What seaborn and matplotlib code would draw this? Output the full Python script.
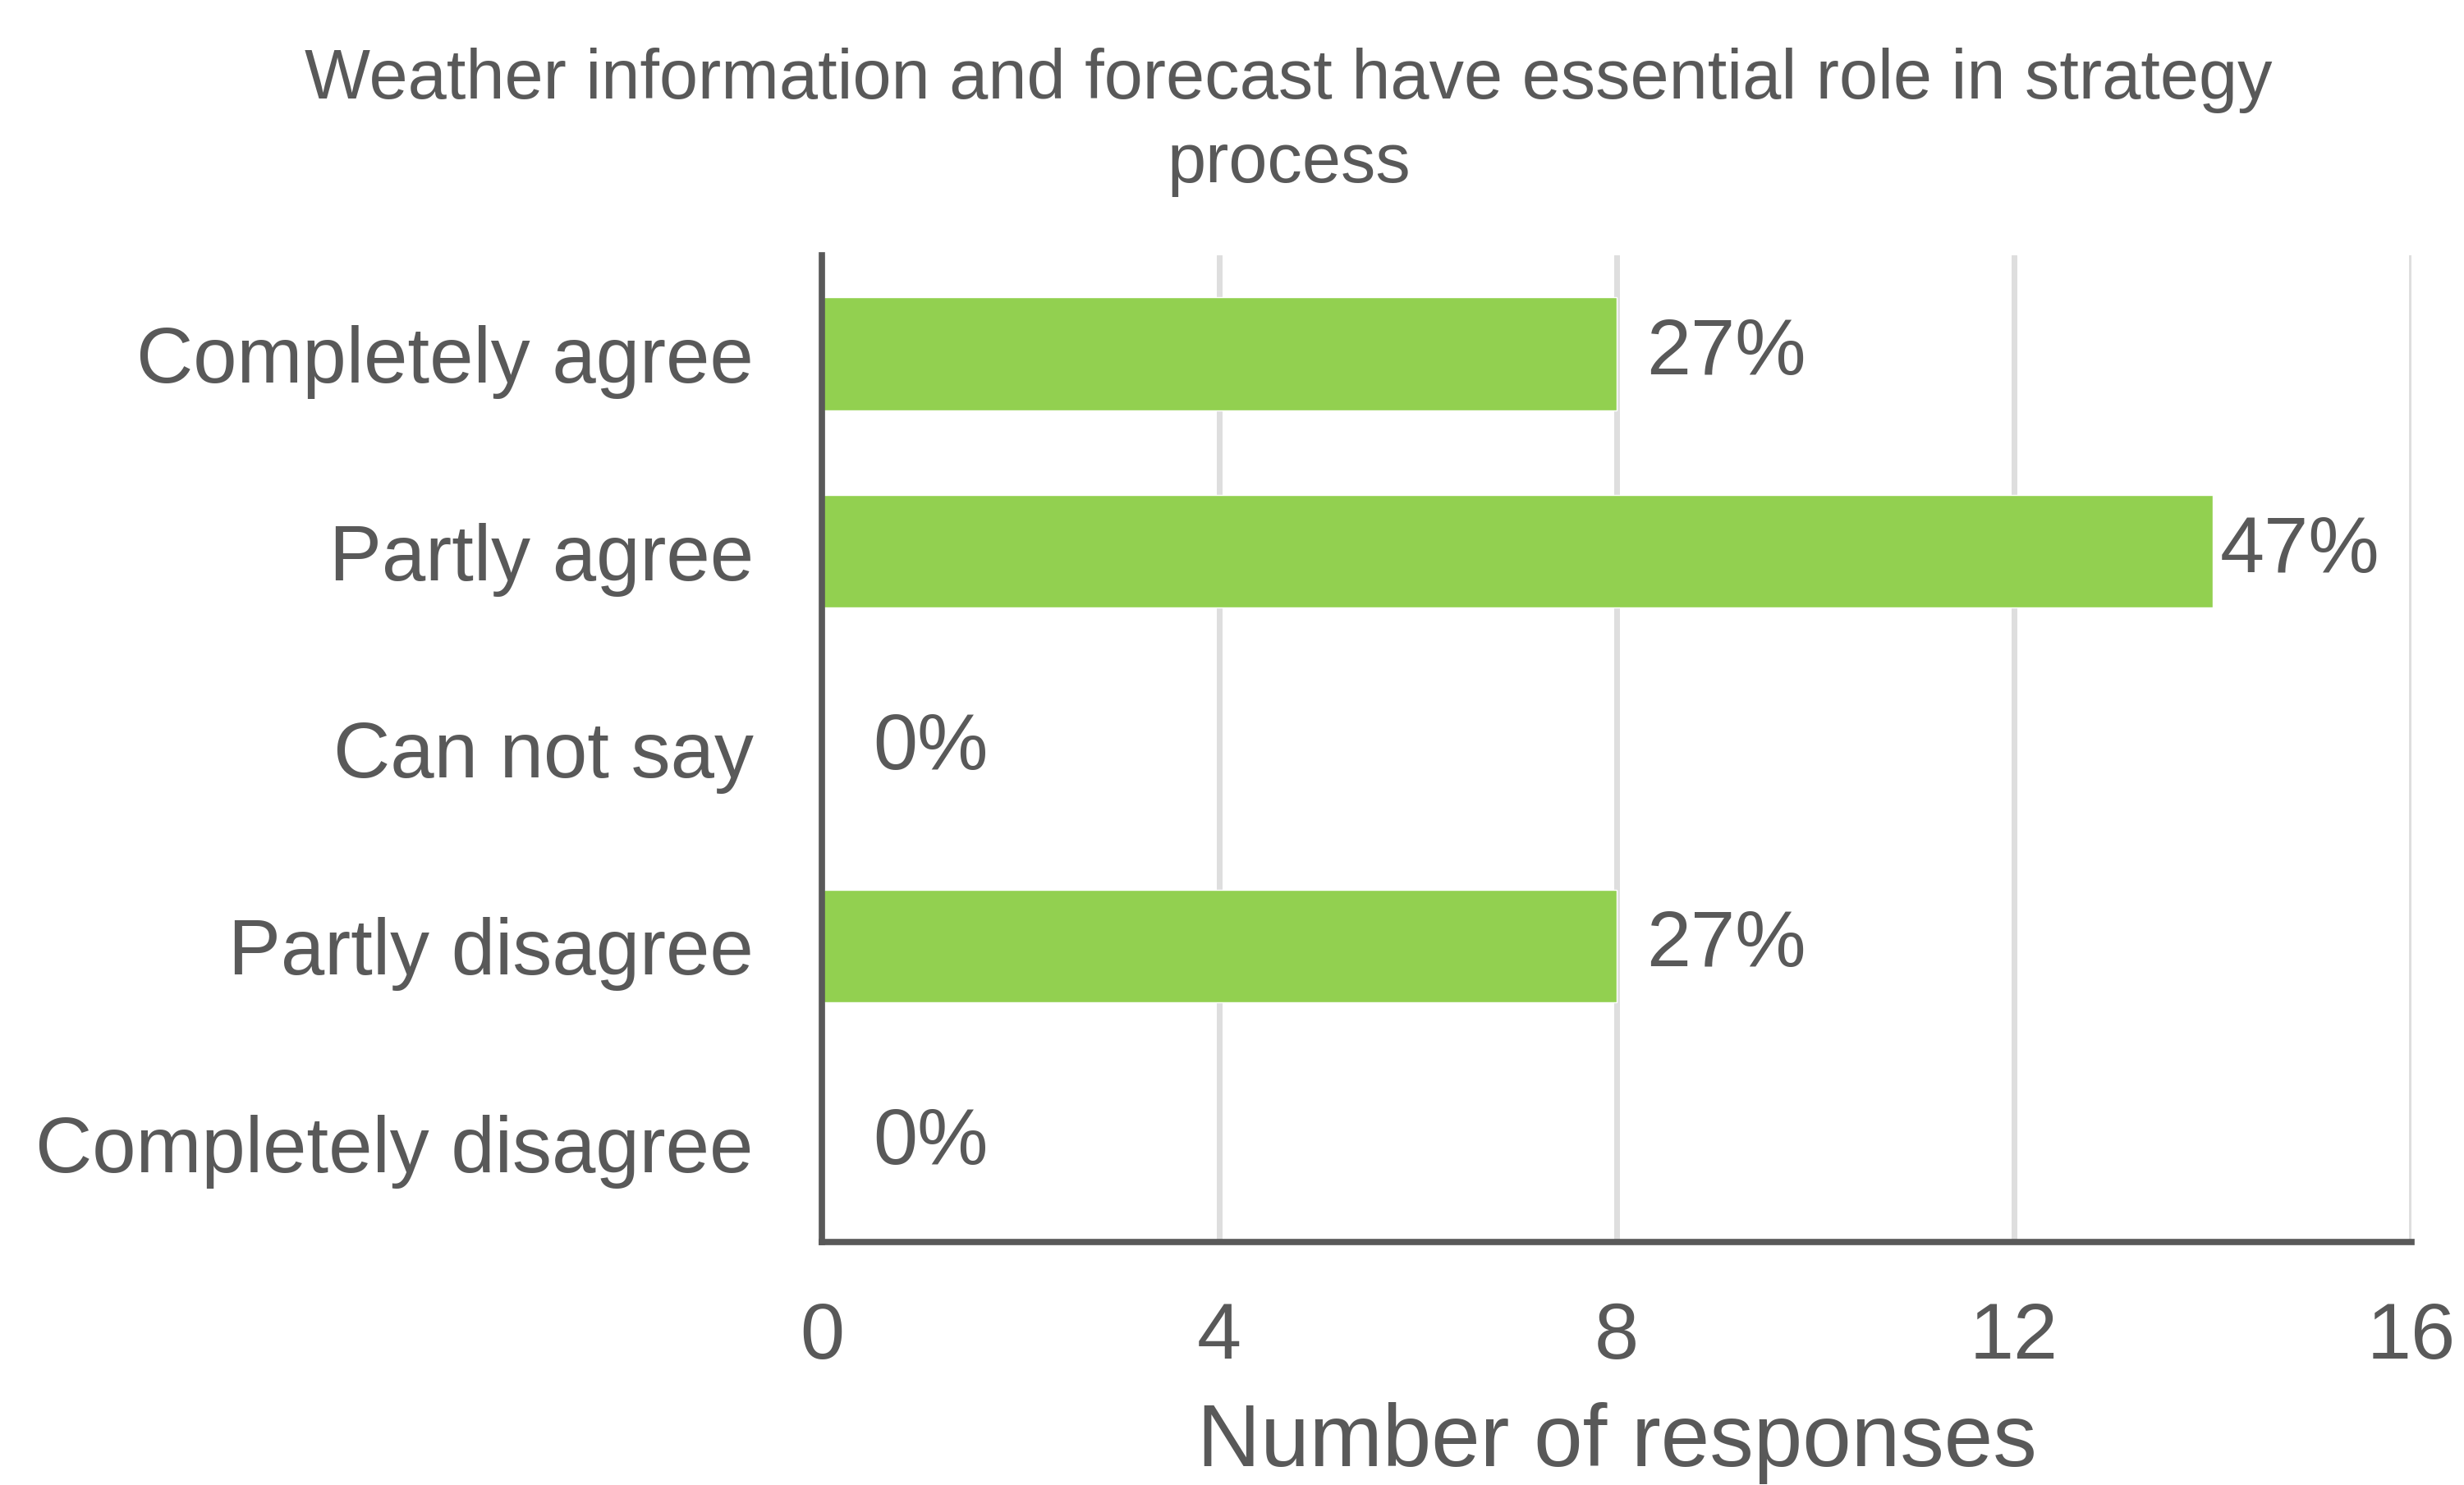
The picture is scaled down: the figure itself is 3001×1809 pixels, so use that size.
import matplotlib
matplotlib.use("Agg")
import matplotlib.pyplot as plt
import seaborn as sns
import pandas as pd

# Survey answers and counts
categories = ["Completely agree", "Partly agree", "Can not say",
              "Partly disagree", "Completely disagree"]
responses = [8, 14, 0, 8, 0]
percent_labels = ["27%", "47%", "0%", "27%", "0%"]
x_ticks = [0, 4, 8, 12, 16]

title = "Weather information and forecast have essential role in strategy\nprocess"
x_label = "Number of responses"

sns.set_theme(style="white")
plt.rcParams["font.family"] = ["Liberation Sans", "DejaVu Sans"]

TEXT = "#595959"
BAR = "#92D050"
GRID = "#dedede"

df = pd.DataFrame({"category": categories, "responses": responses})

fig = plt.figure(figsize=(30.01, 18.09), dpi=100)
ax = fig.add_axes([0.3336, 0.1636, 0.9787 - 0.3336, 0.8281 - 0.1636])

sns.barplot(data=df, x="responses", y="category", order=categories,
            color=BAR, saturation=1, width=0.573, orient="h", ax=ax,
            zorder=3)

ax.set_xlim(0, 16)
ax.set_ylim(4.5, -0.5)
ax.set_xticks(x_ticks)
ax.set_xticklabels([str(t) for t in x_ticks])

ax.xaxis.grid(True, color=GRID, linewidth=5.0, zorder=0)
ax.yaxis.grid(False)
ax.set_axisbelow(True)

for side in ["top", "right"]:
    ax.spines[side].set_visible(False)
for side in ["left", "bottom"]:
    ax.spines[side].set_color(TEXT)
    ax.spines[side].set_linewidth(5.5)
    ax.spines[side].set_zorder(4)

ax.tick_params(axis="x", length=0, pad=52, labelsize=70, labelcolor=TEXT)
ax.tick_params(axis="y", length=0, pad=60, labelsize=69, labelcolor=TEXT)

ax.set_ylabel("")
ax.set_xlabel(x_label, fontsize=77, color=TEXT)
ax.xaxis.set_label_coords(0.5, -0.204)
ax.xaxis.label.set_va("center")

# Value labels next to each bar; the longest bar keeps its label tight
longest = max(responses)
for i, (v, lab) in enumerate(zip(responses, percent_labels)):
    if v == 0:
        off = 45
    elif v == longest:
        off = 6
    else:
        off = 26
    ax.annotate(lab, xy=(v, i), xytext=(off, 0), textcoords="offset points",
                ha="left", va="center", fontsize=70, color=TEXT, zorder=5)

fig.text(0.523, 0.968, title, ha="center", va="top", fontsize=61,
         color=TEXT, linespacing=1.35)

fig.savefig("out.png", dpi=100, facecolor="white")
